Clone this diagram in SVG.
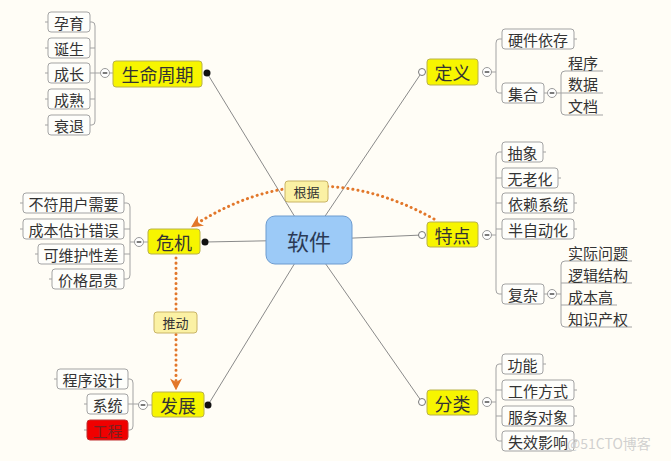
<svg xmlns="http://www.w3.org/2000/svg" width="671" height="461" viewBox="0 0 671 461">
<defs>
<style>
text{font-family:"Noto Sans CJK SC","Noto Sans",sans-serif;fill:#333;}
.leaf rect{fill:#fefefb;stroke:#a3a3a3;stroke-width:1;}
.leaf text{font-size:15px;text-anchor:middle;dominant-baseline:central;}
.main rect{fill:#f7f500;stroke:#b9b24a;stroke-width:1;}
.main text{font-size:18px;text-anchor:middle;dominant-baseline:central;}
.lbl rect{fill:#fbf1a4;stroke:#c9b466;stroke-width:1;}
.lbl text{font-size:13px;text-anchor:middle;dominant-baseline:central;}
.sub text{font-size:15px;dominant-baseline:central;}
.br{fill:none;stroke:#a3a3a3;stroke-width:1;}
.tick{stroke:#a3a3a3;stroke-width:1;}
.col circle{fill:#fff;stroke:#9a9a9a;stroke-width:1;}
.col line{stroke:#333;stroke-width:1.3;}
.ray{stroke:#8a8a8a;stroke-width:1;fill:none;}
.dot{fill:#111;}
.hol{fill:#fff;stroke:#777;stroke-width:1;}
.dash{fill:none;stroke:#e2772a;stroke-width:3;stroke-dasharray:0.1 5;stroke-linecap:round;}
</style>
<marker id="ah" viewBox="0 0 10 10" refX="8" refY="5" markerWidth="4" markerHeight="4" orient="auto" markerUnits="strokeWidth">
<path d="M0,0 L10,5 L0,10 L3,5 Z" fill="#e2772a"/>
</marker>
</defs>
<rect width="671" height="461" fill="#fffdf6"/>

<g id="connectors">
<line class="ray" x1="207" y1="73" x2="309" y2="240"/>
<line class="ray" x1="422" y1="72" x2="309" y2="240"/>
<line class="ray" x1="205" y1="242" x2="309" y2="240"/>
<line class="ray" x1="422" y1="235" x2="309" y2="240"/>
<line class="ray" x1="208" y1="405" x2="309" y2="240"/>
<line class="ray" x1="422" y1="402" x2="309" y2="240"/>
<path class="dash" d="M434,219 Q310,150 193,226" marker-end="url(#ah)"/>
<path class="dash" d="M176,258 L176,388" marker-end="url(#ah)"/>
<circle class="dot" cx="207" cy="73" r="3.5"/>
<circle class="dot" cx="205" cy="242" r="3.5"/>
<circle class="dot" cx="208" cy="405" r="3.5"/>
<circle class="hol" cx="422" cy="72" r="3.5"/>
<circle class="hol" cx="422" cy="235" r="3.5"/>
<circle class="hol" cx="422" cy="402" r="3.5"/>
</g>

<g id="center">
<rect x="266" y="216" width="86" height="48" rx="9" fill="#9ccaf7" stroke="#6d9bcf"/>
<text x="309" y="240" font-size="22" text-anchor="middle" dominant-baseline="central" style="fill:#2b3a55">软件</text>
</g>

<g id="lbl-genju" class="lbl"><rect x="285" y="181" width="43" height="21" rx="3"/><text x="306.5" y="191.5">根据</text></g>
<g id="lbl-tuidong" class="lbl"><rect x="154" y="312" width="43" height="21" rx="3"/><text x="175.5" y="322.5">推动</text></g>

<!-- 生命周期 -->
<g id="shengming">
<path class="br" d="M90,22 H92 Q95,22 95,26 V121 Q95,125 92,125 H90 M90,48 H95 M90,73 H100.5 M90,99 H95 M109.5,73 H113"/>
<g class="col"><circle cx="105" cy="73" r="4.5"/><line x1="102.7" y1="73" x2="107.3" y2="73"/></g>
<g class="main"><rect x="113" y="61" width="89" height="26" rx="3"/><text x="157.5" y="74">生命周期</text></g>
<g class="leaf">
<line class="tick" x1="45" y1="22" x2="48" y2="22"/><rect x="48" y="12" width="42" height="20" rx="3"/><text x="69" y="22">孕育</text>
<line class="tick" x1="45" y1="48" x2="48" y2="48"/><rect x="48" y="38" width="42" height="20" rx="3"/><text x="69" y="48">诞生</text>
<line class="tick" x1="45" y1="73" x2="48" y2="73"/><rect x="48" y="63" width="42" height="20" rx="3"/><text x="69" y="73">成长</text>
<line class="tick" x1="45" y1="99" x2="48" y2="99"/><rect x="48" y="89" width="42" height="20" rx="3"/><text x="69" y="99">成熟</text>
<line class="tick" x1="45" y1="125" x2="48" y2="125"/><rect x="48" y="115" width="42" height="20" rx="3"/><text x="69" y="125">衰退</text>
</g>
</g>

<!-- 危机 -->
<g id="weiji">
<path class="br" d="M124,203 H127 Q130,203 130,207 V275 Q130,279 127,279 H124 M124,229 H130 M124,254 H130 M130,242 H134.5 M143.5,242 H148"/>
<g class="col"><circle cx="139" cy="242" r="4.5"/><line x1="136.7" y1="242" x2="141.3" y2="242"/></g>
<g class="main"><rect x="148" y="229" width="52" height="25" rx="3"/><text x="174" y="242">危机</text></g>
<g class="leaf">
<line class="tick" x1="20" y1="203" x2="23" y2="203"/><rect x="23" y="193" width="101" height="20" rx="3"/><text x="73.5" y="203">不符用户需要</text>
<line class="tick" x1="20" y1="229" x2="23" y2="229"/><rect x="23" y="219" width="101" height="20" rx="3"/><text x="73.5" y="229">成本估计错误</text>
<line class="tick" x1="35" y1="254" x2="38" y2="254"/><rect x="38" y="244" width="86" height="20" rx="3"/><text x="81" y="254">可维护性差</text>
<line class="tick" x1="49" y1="279" x2="52" y2="279"/><rect x="52" y="269" width="72" height="20" rx="3"/><text x="88" y="279">价格昂贵</text>
</g>
</g>

<!-- 发展 -->
<g id="fazhan">
<path class="br" d="M128,379 H130 Q133,379 133,383 V426 Q133,430 130,430 H128 M128,404 H138.5 M147.5,405 H152"/>
<g class="col"><circle cx="143" cy="405" r="4.5"/><line x1="140.7" y1="405" x2="145.3" y2="405"/></g>
<g class="main"><rect x="152" y="392" width="52" height="25" rx="3"/><text x="178" y="405">发展</text></g>
<g class="leaf">
<line class="tick" x1="54" y1="379" x2="57" y2="379"/><rect x="57" y="369" width="71" height="20" rx="3"/><text x="92.5" y="379">程序设计</text>
<line class="tick" x1="84" y1="404" x2="87" y2="404"/><rect x="87" y="394" width="41" height="20" rx="3"/><text x="107.5" y="404">系统</text>
<line class="tick" x1="84" y1="430" x2="87" y2="430"/><rect x="87" y="420" width="41" height="20" rx="3" style="fill:#f00000;stroke:#c03030"/><text x="107.5" y="430" style="fill:#7a2020">工程</text>
</g>
</g>

<!-- 定义 -->
<g id="dingyi">
<path class="br" d="M482.5,72 H496 M502,39 H499 Q496,39 496,43 V89 Q496,93 499,93 H502"/>
<g class="col"><circle cx="487" cy="72" r="4.5"/><line x1="484.7" y1="72" x2="489.3" y2="72"/></g>
<g class="main"><rect x="427" y="59" width="51" height="26" rx="3"/><text x="452.5" y="72">定义</text></g>
<g class="leaf">
<rect x="502" y="29" width="72" height="20" rx="3"/><text x="538" y="39">硬件依存</text><line class="tick" x1="574" y1="39" x2="577" y2="39"/>
<rect x="502" y="83" width="42" height="20" rx="3"/><text x="523" y="93">集合</text>
</g>
<path class="br" d="M544,93 H547.5 M556.5,93 H561 M603,71 H565 Q561,71 561,75 V111 Q561,115 565,115 H603 M561,93 H603"/>
<g class="col"><circle cx="552" cy="93" r="4.5"/><line x1="549.7" y1="93" x2="554.3" y2="93"/></g>
<g class="sub"><text x="568" y="62">程序</text><text x="568" y="83">数据</text><text x="568" y="105">文档</text></g>
</g>

<!-- 特点 -->
<g id="tedian">
<path class="br" d="M482.5,235 H496 M502,152 H499 Q496,152 496,156 V290 Q496,294 499,294 H502 M496,178 H502 M496,203 H502 M496,229 H502"/>
<g class="col"><circle cx="487" cy="235" r="4.5"/><line x1="484.7" y1="235" x2="489.3" y2="235"/></g>
<g class="main"><rect x="427" y="222" width="51" height="25" rx="3"/><text x="452.5" y="235">特点</text></g>
<g class="leaf">
<rect x="502" y="142" width="41" height="20" rx="3"/><text x="522.5" y="152">抽象</text><line class="tick" x1="543" y1="152" x2="546" y2="152"/>
<rect x="502" y="168" width="56" height="20" rx="3"/><text x="530" y="178">无老化</text><line class="tick" x1="558" y1="178" x2="561" y2="178"/>
<rect x="502" y="193" width="72" height="20" rx="3"/><text x="538" y="203">依赖系统</text><line class="tick" x1="574" y1="203" x2="577" y2="203"/>
<rect x="502" y="219" width="72" height="20" rx="3"/><text x="538" y="229">半自动化</text><line class="tick" x1="574" y1="229" x2="577" y2="229"/>
<rect x="502" y="284" width="42" height="20" rx="3"/><text x="523" y="294">复杂</text>
</g>
<path class="br" d="M544,294 H547.5 M556.5,294 H561 M632,261 H565 Q561,261 561,265 V323 Q561,327 565,327 H632 M561,283 H632 M561,305 H617"/>
<g class="col"><circle cx="552" cy="294" r="4.5"/><line x1="549.7" y1="294" x2="554.3" y2="294"/></g>
<g class="sub"><text x="568" y="252">实际问题</text><text x="568" y="274">逻辑结构</text><text x="568" y="296">成本高</text><text x="568" y="318">知识产权</text></g>
</g>

<!-- 分类 -->
<g id="fenlei">
<path class="br" d="M482.5,402 H496 M502,364 H499 Q496,364 496,368 V437 Q496,441 499,441 H502 M496,390 H502 M496,416 H502"/>
<g class="col"><circle cx="487" cy="402" r="4.5"/><line x1="484.7" y1="402" x2="489.3" y2="402"/></g>
<g class="main"><rect x="427" y="390" width="51" height="25" rx="3"/><text x="452.5" y="402.5">分类</text></g>
<g class="leaf">
<rect x="502" y="354" width="41" height="20" rx="3"/><text x="522.5" y="364">功能</text><line class="tick" x1="543" y1="364" x2="546" y2="364"/>
<rect x="502" y="380" width="72" height="20" rx="3"/><text x="538" y="390">工作方式</text><line class="tick" x1="574" y1="390" x2="577" y2="390"/>
<rect x="502" y="406" width="72" height="20" rx="3"/><text x="538" y="416">服务对象</text><line class="tick" x1="574" y1="416" x2="577" y2="416"/>
<rect x="502" y="431" width="72" height="20" rx="3"/><text x="538" y="441">失效影响</text><line class="tick" x1="574" y1="441" x2="577" y2="441"/>
</g>
</g>

<text x="567" y="443" font-size="14" dominant-baseline="central" style="fill:#c8c8c8;fill-opacity:0.85">@51CTO博客</text>
</svg>
